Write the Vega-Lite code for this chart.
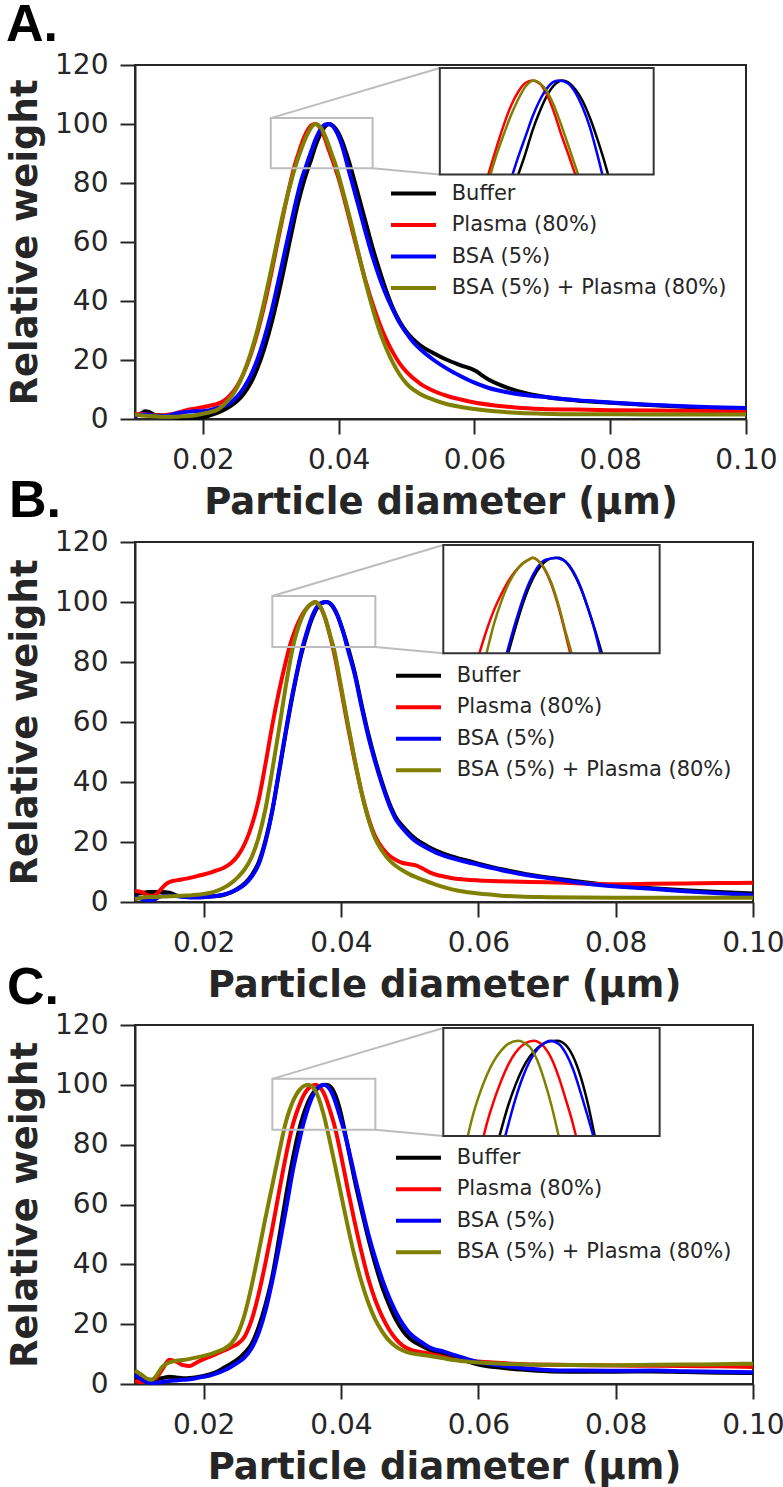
{
"$schema": "https://vega.github.io/schema/vega-lite/v6.json",
"background": "white",
"padding": {"left": 5, "top": -3, "right": 5, "bottom": 5},
"datasets": {
"A": [
{"s":"Buffer","x":0.010,"y":1.0},{"s":"Buffer","x":0.011,"y":2.0},{"s":"Buffer","x":0.0115,"y":2.6},{"s":"Buffer","x":0.012,"y":2.5},{"s":"Buffer","x":0.013,"y":1.3},{"s":"Buffer","x":0.014,"y":1.2},{"s":"Buffer","x":0.015,"y":1.0},{"s":"Buffer","x":0.016,"y":0.5},{"s":"Buffer","x":0.017,"y":0.3},{"s":"Buffer","x":0.018,"y":0.3},{"s":"Buffer","x":0.019,"y":0.4},{"s":"Buffer","x":0.020,"y":0.6},{"s":"Buffer","x":0.021,"y":1.2},{"s":"Buffer","x":0.022,"y":2.0},{"s":"Buffer","x":0.023,"y":3.0},{"s":"Buffer","x":0.024,"y":4.3},{"s":"Buffer","x":0.025,"y":6.0},{"s":"Buffer","x":0.026,"y":8.5},{"s":"Buffer","x":0.027,"y":12},{"s":"Buffer","x":0.028,"y":17},{"s":"Buffer","x":0.029,"y":23.5},{"s":"Buffer","x":0.030,"y":31.5},{"s":"Buffer","x":0.031,"y":41},{"s":"Buffer","x":0.032,"y":51.5},{"s":"Buffer","x":0.033,"y":62.5},{"s":"Buffer","x":0.034,"y":73},{"s":"Buffer","x":0.035,"y":81.5},{"s":"Buffer","x":0.0355,"y":85},{"s":"Buffer","x":0.036,"y":88.3},{"s":"Buffer","x":0.0365,"y":92},{"s":"Buffer","x":0.037,"y":95},{"s":"Buffer","x":0.0375,"y":97.5},{"s":"Buffer","x":0.038,"y":99.2},{"s":"Buffer","x":0.0386,"y":100},{"s":"Buffer","x":0.039,"y":99.7},{"s":"Buffer","x":0.0395,"y":98.6},{"s":"Buffer","x":0.040,"y":96.8},{"s":"Buffer","x":0.0405,"y":94.2},{"s":"Buffer","x":0.041,"y":91},{"s":"Buffer","x":0.0415,"y":87.4},{"s":"Buffer","x":0.0418,"y":85},{"s":"Buffer","x":0.042,"y":83.4},{"s":"Buffer","x":0.043,"y":75},{"s":"Buffer","x":0.044,"y":66.5},{"s":"Buffer","x":0.045,"y":58},{"s":"Buffer","x":0.046,"y":50.5},{"s":"Buffer","x":0.047,"y":43.5},{"s":"Buffer","x":0.048,"y":37.5},{"s":"Buffer","x":0.049,"y":33},{"s":"Buffer","x":0.050,"y":29.5},{"s":"Buffer","x":0.051,"y":27},{"s":"Buffer","x":0.052,"y":25},{"s":"Buffer","x":0.054,"y":22.3},{"s":"Buffer","x":0.056,"y":20},{"s":"Buffer","x":0.058,"y":18.2},{"s":"Buffer","x":0.060,"y":16.5},{"s":"Buffer","x":0.062,"y":13.5},{"s":"Buffer","x":0.065,"y":10.5},{"s":"Buffer","x":0.068,"y":8.5},{"s":"Buffer","x":0.071,"y":7.3},{"s":"Buffer","x":0.075,"y":6.3},{"s":"Buffer","x":0.080,"y":5.5},{"s":"Buffer","x":0.085,"y":4.8},{"s":"Buffer","x":0.090,"y":4.2},{"s":"Buffer","x":0.095,"y":3.7},{"s":"Buffer","x":0.100,"y":3.3},
{"s":"Plasma (80%)","x":0.010,"y":1.5},{"s":"Plasma (80%)","x":0.011,"y":1.8},{"s":"Plasma (80%)","x":0.012,"y":1.5},{"s":"Plasma (80%)","x":0.013,"y":1.2},{"s":"Plasma (80%)","x":0.014,"y":1.2},{"s":"Plasma (80%)","x":0.015,"y":1.5},{"s":"Plasma (80%)","x":0.016,"y":2.0},{"s":"Plasma (80%)","x":0.017,"y":2.6},{"s":"Plasma (80%)","x":0.018,"y":3.2},{"s":"Plasma (80%)","x":0.019,"y":3.6},{"s":"Plasma (80%)","x":0.020,"y":4.0},{"s":"Plasma (80%)","x":0.021,"y":4.5},{"s":"Plasma (80%)","x":0.022,"y":5.0},{"s":"Plasma (80%)","x":0.023,"y":6.0},{"s":"Plasma (80%)","x":0.024,"y":8.0},{"s":"Plasma (80%)","x":0.025,"y":11.0},{"s":"Plasma (80%)","x":0.026,"y":15.5},{"s":"Plasma (80%)","x":0.027,"y":21.5},{"s":"Plasma (80%)","x":0.028,"y":29},{"s":"Plasma (80%)","x":0.029,"y":38},{"s":"Plasma (80%)","x":0.030,"y":48.5},{"s":"Plasma (80%)","x":0.031,"y":60},{"s":"Plasma (80%)","x":0.032,"y":71},{"s":"Plasma (80%)","x":0.033,"y":81.2},{"s":"Plasma (80%)","x":0.0334,"y":85},{"s":"Plasma (80%)","x":0.034,"y":89.5},{"s":"Plasma (80%)","x":0.0345,"y":93},{"s":"Plasma (80%)","x":0.035,"y":96},{"s":"Plasma (80%)","x":0.0355,"y":98.2},{"s":"Plasma (80%)","x":0.036,"y":99.6},{"s":"Plasma (80%)","x":0.0365,"y":100},{"s":"Plasma (80%)","x":0.037,"y":99.5},{"s":"Plasma (80%)","x":0.0375,"y":97.8},{"s":"Plasma (80%)","x":0.038,"y":95},{"s":"Plasma (80%)","x":0.0385,"y":91.5},{"s":"Plasma (80%)","x":0.039,"y":88.3},{"s":"Plasma (80%)","x":0.0395,"y":85},{"s":"Plasma (80%)","x":0.040,"y":81.5},{"s":"Plasma (80%)","x":0.041,"y":73},{"s":"Plasma (80%)","x":0.042,"y":64},{"s":"Plasma (80%)","x":0.043,"y":55},{"s":"Plasma (80%)","x":0.044,"y":46.5},{"s":"Plasma (80%)","x":0.045,"y":39},{"s":"Plasma (80%)","x":0.046,"y":32.5},{"s":"Plasma (80%)","x":0.047,"y":27},{"s":"Plasma (80%)","x":0.048,"y":22.5},{"s":"Plasma (80%)","x":0.049,"y":18.8},{"s":"Plasma (80%)","x":0.050,"y":16},{"s":"Plasma (80%)","x":0.052,"y":12},{"s":"Plasma (80%)","x":0.054,"y":9.5},{"s":"Plasma (80%)","x":0.056,"y":7.8},{"s":"Plasma (80%)","x":0.058,"y":6.6},{"s":"Plasma (80%)","x":0.060,"y":5.6},{"s":"Plasma (80%)","x":0.063,"y":4.6},{"s":"Plasma (80%)","x":0.066,"y":3.9},{"s":"Plasma (80%)","x":0.070,"y":3.4},{"s":"Plasma (80%)","x":0.075,"y":3.2},{"s":"Plasma (80%)","x":0.080,"y":3.0},{"s":"Plasma (80%)","x":0.090,"y":2.8},{"s":"Plasma (80%)","x":0.100,"y":2.7},
{"s":"BSA (5%)","x":0.010,"y":1.0},{"s":"BSA (5%)","x":0.011,"y":1.5},{"s":"BSA (5%)","x":0.012,"y":1.5},{"s":"BSA (5%)","x":0.013,"y":1.0},{"s":"BSA (5%)","x":0.014,"y":1.0},{"s":"BSA (5%)","x":0.015,"y":1.2},{"s":"BSA (5%)","x":0.016,"y":1.8},{"s":"BSA (5%)","x":0.017,"y":2.2},{"s":"BSA (5%)","x":0.018,"y":2.5},{"s":"BSA (5%)","x":0.019,"y":2.6},{"s":"BSA (5%)","x":0.020,"y":2.6},{"s":"BSA (5%)","x":0.021,"y":3.0},{"s":"BSA (5%)","x":0.022,"y":3.6},{"s":"BSA (5%)","x":0.023,"y":4.3},{"s":"BSA (5%)","x":0.024,"y":5.4},{"s":"BSA (5%)","x":0.025,"y":7.5},{"s":"BSA (5%)","x":0.026,"y":10.5},{"s":"BSA (5%)","x":0.027,"y":14.5},{"s":"BSA (5%)","x":0.028,"y":20},{"s":"BSA (5%)","x":0.029,"y":27},{"s":"BSA (5%)","x":0.030,"y":35.5},{"s":"BSA (5%)","x":0.031,"y":45.5},{"s":"BSA (5%)","x":0.032,"y":56},{"s":"BSA (5%)","x":0.033,"y":66.5},{"s":"BSA (5%)","x":0.034,"y":76.5},{"s":"BSA (5%)","x":0.0345,"y":81},{"s":"BSA (5%)","x":0.0351,"y":85},{"s":"BSA (5%)","x":0.0355,"y":87.8},{"s":"BSA (5%)","x":0.036,"y":91},{"s":"BSA (5%)","x":0.0365,"y":94.2},{"s":"BSA (5%)","x":0.037,"y":96.8},{"s":"BSA (5%)","x":0.0375,"y":98.7},{"s":"BSA (5%)","x":0.038,"y":99.8},{"s":"BSA (5%)","x":0.0384,"y":100},{"s":"BSA (5%)","x":0.039,"y":99.5},{"s":"BSA (5%)","x":0.0395,"y":98.1},{"s":"BSA (5%)","x":0.040,"y":95.8},{"s":"BSA (5%)","x":0.0405,"y":92.7},{"s":"BSA (5%)","x":0.041,"y":88.6},{"s":"BSA (5%)","x":0.0414,"y":85},{"s":"BSA (5%)","x":0.042,"y":80},{"s":"BSA (5%)","x":0.043,"y":71.5},{"s":"BSA (5%)","x":0.044,"y":63},{"s":"BSA (5%)","x":0.045,"y":55},{"s":"BSA (5%)","x":0.046,"y":48},{"s":"BSA (5%)","x":0.047,"y":42},{"s":"BSA (5%)","x":0.048,"y":37},{"s":"BSA (5%)","x":0.049,"y":32.5},{"s":"BSA (5%)","x":0.050,"y":29},{"s":"BSA (5%)","x":0.051,"y":26},{"s":"BSA (5%)","x":0.052,"y":23.7},{"s":"BSA (5%)","x":0.054,"y":20},{"s":"BSA (5%)","x":0.056,"y":17},{"s":"BSA (5%)","x":0.058,"y":14.5},{"s":"BSA (5%)","x":0.060,"y":12.3},{"s":"BSA (5%)","x":0.062,"y":10.6},{"s":"BSA (5%)","x":0.065,"y":9.0},{"s":"BSA (5%)","x":0.068,"y":8.0},{"s":"BSA (5%)","x":0.071,"y":7.3},{"s":"BSA (5%)","x":0.075,"y":6.4},{"s":"BSA (5%)","x":0.080,"y":5.6},{"s":"BSA (5%)","x":0.085,"y":4.9},{"s":"BSA (5%)","x":0.090,"y":4.4},{"s":"BSA (5%)","x":0.095,"y":4.0},{"s":"BSA (5%)","x":0.100,"y":3.7},
{"s":"BSA (5%) + Plasma (80%)","x":0.010,"y":1.5},{"s":"BSA (5%) + Plasma (80%)","x":0.011,"y":1.2},{"s":"BSA (5%) + Plasma (80%)","x":0.012,"y":1.0},{"s":"BSA (5%) + Plasma (80%)","x":0.013,"y":0.9},{"s":"BSA (5%) + Plasma (80%)","x":0.014,"y":0.8},{"s":"BSA (5%) + Plasma (80%)","x":0.015,"y":0.8},{"s":"BSA (5%) + Plasma (80%)","x":0.016,"y":0.8},{"s":"BSA (5%) + Plasma (80%)","x":0.017,"y":0.9},{"s":"BSA (5%) + Plasma (80%)","x":0.018,"y":1.0},{"s":"BSA (5%) + Plasma (80%)","x":0.019,"y":1.3},{"s":"BSA (5%) + Plasma (80%)","x":0.020,"y":1.8},{"s":"BSA (5%) + Plasma (80%)","x":0.021,"y":2.3},{"s":"BSA (5%) + Plasma (80%)","x":0.022,"y":3.0},{"s":"BSA (5%) + Plasma (80%)","x":0.023,"y":4.6},{"s":"BSA (5%) + Plasma (80%)","x":0.024,"y":7.0},{"s":"BSA (5%) + Plasma (80%)","x":0.025,"y":10.5},{"s":"BSA (5%) + Plasma (80%)","x":0.026,"y":15.5},{"s":"BSA (5%) + Plasma (80%)","x":0.027,"y":22},{"s":"BSA (5%) + Plasma (80%)","x":0.028,"y":30},{"s":"BSA (5%) + Plasma (80%)","x":0.029,"y":39.5},{"s":"BSA (5%) + Plasma (80%)","x":0.030,"y":50},{"s":"BSA (5%) + Plasma (80%)","x":0.031,"y":61},{"s":"BSA (5%) + Plasma (80%)","x":0.032,"y":71.5},{"s":"BSA (5%) + Plasma (80%)","x":0.033,"y":80.5},{"s":"BSA (5%) + Plasma (80%)","x":0.03355,"y":85},{"s":"BSA (5%) + Plasma (80%)","x":0.034,"y":88.3},{"s":"BSA (5%) + Plasma (80%)","x":0.0345,"y":91.5},{"s":"BSA (5%) + Plasma (80%)","x":0.035,"y":94.5},{"s":"BSA (5%) + Plasma (80%)","x":0.0355,"y":97},{"s":"BSA (5%) + Plasma (80%)","x":0.036,"y":99},{"s":"BSA (5%) + Plasma (80%)","x":0.0366,"y":100},{"s":"BSA (5%) + Plasma (80%)","x":0.037,"y":99.6},{"s":"BSA (5%) + Plasma (80%)","x":0.0375,"y":98.3},{"s":"BSA (5%) + Plasma (80%)","x":0.038,"y":96},{"s":"BSA (5%) + Plasma (80%)","x":0.0385,"y":93},{"s":"BSA (5%) + Plasma (80%)","x":0.039,"y":89.7},{"s":"BSA (5%) + Plasma (80%)","x":0.0397,"y":85},{"s":"BSA (5%) + Plasma (80%)","x":0.040,"y":82.5},{"s":"BSA (5%) + Plasma (80%)","x":0.041,"y":74},{"s":"BSA (5%) + Plasma (80%)","x":0.042,"y":65},{"s":"BSA (5%) + Plasma (80%)","x":0.043,"y":55.5},{"s":"BSA (5%) + Plasma (80%)","x":0.044,"y":46},{"s":"BSA (5%) + Plasma (80%)","x":0.045,"y":37.5},{"s":"BSA (5%) + Plasma (80%)","x":0.046,"y":30},{"s":"BSA (5%) + Plasma (80%)","x":0.047,"y":24},{"s":"BSA (5%) + Plasma (80%)","x":0.048,"y":19},{"s":"BSA (5%) + Plasma (80%)","x":0.049,"y":15},{"s":"BSA (5%) + Plasma (80%)","x":0.050,"y":12},{"s":"BSA (5%) + Plasma (80%)","x":0.052,"y":8.5},{"s":"BSA (5%) + Plasma (80%)","x":0.054,"y":6.5},{"s":"BSA (5%) + Plasma (80%)","x":0.056,"y":5.0},{"s":"BSA (5%) + Plasma (80%)","x":0.058,"y":4.1},{"s":"BSA (5%) + Plasma (80%)","x":0.060,"y":3.4},{"s":"BSA (5%) + Plasma (80%)","x":0.063,"y":2.6},{"s":"BSA (5%) + Plasma (80%)","x":0.066,"y":2.1},{"s":"BSA (5%) + Plasma (80%)","x":0.070,"y":1.8},{"s":"BSA (5%) + Plasma (80%)","x":0.075,"y":1.6},{"s":"BSA (5%) + Plasma (80%)","x":0.080,"y":1.6},{"s":"BSA (5%) + Plasma (80%)","x":0.090,"y":1.5},{"s":"BSA (5%) + Plasma (80%)","x":0.100,"y":1.5}
],
"B": [
{"s":"Buffer","x":0.010,"y":2.6},{"s":"Buffer","x":0.011,"y":3.0},{"s":"Buffer","x":0.012,"y":3.3},{"s":"Buffer","x":0.013,"y":3.3},{"s":"Buffer","x":0.014,"y":3.3},{"s":"Buffer","x":0.015,"y":3.1},{"s":"Buffer","x":0.016,"y":2.2},{"s":"Buffer","x":0.017,"y":1.8},{"s":"Buffer","x":0.018,"y":1.7},{"s":"Buffer","x":0.019,"y":1.7},{"s":"Buffer","x":0.020,"y":1.7},{"s":"Buffer","x":0.021,"y":1.8},{"s":"Buffer","x":0.022,"y":2.0},{"s":"Buffer","x":0.023,"y":2.4},{"s":"Buffer","x":0.024,"y":3.2},{"s":"Buffer","x":0.025,"y":4.5},{"s":"Buffer","x":0.026,"y":6.3},{"s":"Buffer","x":0.027,"y":9.0},{"s":"Buffer","x":0.028,"y":13.2},{"s":"Buffer","x":0.029,"y":20.5},{"s":"Buffer","x":0.030,"y":30.5},{"s":"Buffer","x":0.031,"y":43.5},{"s":"Buffer","x":0.032,"y":57},{"s":"Buffer","x":0.033,"y":69.5},{"s":"Buffer","x":0.034,"y":80.5},{"s":"Buffer","x":0.0345,"y":85},{"s":"Buffer","x":0.035,"y":89},{"s":"Buffer","x":0.0355,"y":92.7},{"s":"Buffer","x":0.036,"y":95.7},{"s":"Buffer","x":0.0365,"y":97.9},{"s":"Buffer","x":0.037,"y":99.3},{"s":"Buffer","x":0.0375,"y":99.9},{"s":"Buffer","x":0.038,"y":100},{"s":"Buffer","x":0.0385,"y":99.3},{"s":"Buffer","x":0.039,"y":97.7},{"s":"Buffer","x":0.0395,"y":95.4},{"s":"Buffer","x":0.040,"y":92.3},{"s":"Buffer","x":0.0405,"y":88.8},{"s":"Buffer","x":0.041,"y":85},{"s":"Buffer","x":0.042,"y":76.5},{"s":"Buffer","x":0.043,"y":65.8},{"s":"Buffer","x":0.044,"y":55.8},{"s":"Buffer","x":0.045,"y":47.2},{"s":"Buffer","x":0.046,"y":39.7},{"s":"Buffer","x":0.047,"y":33.2},{"s":"Buffer","x":0.048,"y":28.2},{"s":"Buffer","x":0.049,"y":25.2},{"s":"Buffer","x":0.050,"y":22.8},{"s":"Buffer","x":0.051,"y":20.8},{"s":"Buffer","x":0.0525,"y":18.7},{"s":"Buffer","x":0.054,"y":17},{"s":"Buffer","x":0.056,"y":15.3},{"s":"Buffer","x":0.058,"y":14},{"s":"Buffer","x":0.060,"y":12.8},{"s":"Buffer","x":0.0634,"y":10.9},{"s":"Buffer","x":0.067,"y":9.3},{"s":"Buffer","x":0.0707,"y":8.0},{"s":"Buffer","x":0.074,"y":7.0},{"s":"Buffer","x":0.078,"y":5.9},{"s":"Buffer","x":0.0825,"y":5.0},{"s":"Buffer","x":0.0852,"y":4.6},{"s":"Buffer","x":0.090,"y":3.9},{"s":"Buffer","x":0.095,"y":3.3},{"s":"Buffer","x":0.100,"y":2.8},
{"s":"Plasma (80%)","x":0.010,"y":3.7},{"s":"Plasma (80%)","x":0.011,"y":3.3},{"s":"Plasma (80%)","x":0.0117,"y":2.4},{"s":"Plasma (80%)","x":0.0125,"y":2.0},{"s":"Plasma (80%)","x":0.0132,"y":2.8},{"s":"Plasma (80%)","x":0.014,"y":4.8},{"s":"Plasma (80%)","x":0.0146,"y":6.1},{"s":"Plasma (80%)","x":0.0155,"y":7.0},{"s":"Plasma (80%)","x":0.0165,"y":7.4},{"s":"Plasma (80%)","x":0.0175,"y":7.8},{"s":"Plasma (80%)","x":0.0185,"y":8.3},{"s":"Plasma (80%)","x":0.0195,"y":8.9},{"s":"Plasma (80%)","x":0.021,"y":9.8},{"s":"Plasma (80%)","x":0.022,"y":10.6},{"s":"Plasma (80%)","x":0.023,"y":11.5},{"s":"Plasma (80%)","x":0.024,"y":13},{"s":"Plasma (80%)","x":0.025,"y":15.5},{"s":"Plasma (80%)","x":0.026,"y":19.5},{"s":"Plasma (80%)","x":0.027,"y":25.5},{"s":"Plasma (80%)","x":0.028,"y":34},{"s":"Plasma (80%)","x":0.029,"y":46},{"s":"Plasma (80%)","x":0.030,"y":59},{"s":"Plasma (80%)","x":0.031,"y":70.5},{"s":"Plasma (80%)","x":0.032,"y":80.5},{"s":"Plasma (80%)","x":0.0325,"y":85},{"s":"Plasma (80%)","x":0.033,"y":88.6},{"s":"Plasma (80%)","x":0.0335,"y":91.7},{"s":"Plasma (80%)","x":0.034,"y":94.2},{"s":"Plasma (80%)","x":0.0345,"y":96.3},{"s":"Plasma (80%)","x":0.035,"y":97.9},{"s":"Plasma (80%)","x":0.0355,"y":99.1},{"s":"Plasma (80%)","x":0.036,"y":99.8},{"s":"Plasma (80%)","x":0.0362,"y":100},{"s":"Plasma (80%)","x":0.0365,"y":99.7},{"s":"Plasma (80%)","x":0.037,"y":98.3},{"s":"Plasma (80%)","x":0.0375,"y":95.8},{"s":"Plasma (80%)","x":0.038,"y":92.2},{"s":"Plasma (80%)","x":0.0385,"y":87.8},{"s":"Plasma (80%)","x":0.0388,"y":85},{"s":"Plasma (80%)","x":0.039,"y":83},{"s":"Plasma (80%)","x":0.040,"y":71},{"s":"Plasma (80%)","x":0.041,"y":58.5},{"s":"Plasma (80%)","x":0.042,"y":47},{"s":"Plasma (80%)","x":0.043,"y":36.5},{"s":"Plasma (80%)","x":0.044,"y":28},{"s":"Plasma (80%)","x":0.045,"y":21.8},{"s":"Plasma (80%)","x":0.046,"y":18},{"s":"Plasma (80%)","x":0.047,"y":15.5},{"s":"Plasma (80%)","x":0.048,"y":14},{"s":"Plasma (80%)","x":0.049,"y":13},{"s":"Plasma (80%)","x":0.050,"y":12.6},{"s":"Plasma (80%)","x":0.051,"y":12.1},{"s":"Plasma (80%)","x":0.052,"y":11},{"s":"Plasma (80%)","x":0.053,"y":9.8},{"s":"Plasma (80%)","x":0.054,"y":9.0},{"s":"Plasma (80%)","x":0.055,"y":8.5},{"s":"Plasma (80%)","x":0.056,"y":8.0},{"s":"Plasma (80%)","x":0.058,"y":7.5},{"s":"Plasma (80%)","x":0.060,"y":7.2},{"s":"Plasma (80%)","x":0.065,"y":6.8},{"s":"Plasma (80%)","x":0.070,"y":6.6},{"s":"Plasma (80%)","x":0.075,"y":6.2},{"s":"Plasma (80%)","x":0.080,"y":5.9},{"s":"Plasma (80%)","x":0.085,"y":6.1},{"s":"Plasma (80%)","x":0.090,"y":6.2},{"s":"Plasma (80%)","x":0.095,"y":6.3},{"s":"Plasma (80%)","x":0.100,"y":6.4},
{"s":"BSA (5%)","x":0.010,"y":1.7},{"s":"BSA (5%)","x":0.011,"y":1.0},{"s":"BSA (5%)","x":0.012,"y":0.6},{"s":"BSA (5%)","x":0.0128,"y":0.8},{"s":"BSA (5%)","x":0.0136,"y":1.8},{"s":"BSA (5%)","x":0.015,"y":2.2},{"s":"BSA (5%)","x":0.016,"y":2.0},{"s":"BSA (5%)","x":0.017,"y":1.7},{"s":"BSA (5%)","x":0.018,"y":1.5},{"s":"BSA (5%)","x":0.019,"y":1.5},{"s":"BSA (5%)","x":0.020,"y":1.6},{"s":"BSA (5%)","x":0.021,"y":1.8},{"s":"BSA (5%)","x":0.022,"y":2.1},{"s":"BSA (5%)","x":0.023,"y":2.5},{"s":"BSA (5%)","x":0.024,"y":3.3},{"s":"BSA (5%)","x":0.025,"y":4.3},{"s":"BSA (5%)","x":0.026,"y":5.9},{"s":"BSA (5%)","x":0.027,"y":8.5},{"s":"BSA (5%)","x":0.028,"y":12.5},{"s":"BSA (5%)","x":0.029,"y":20},{"s":"BSA (5%)","x":0.030,"y":30.5},{"s":"BSA (5%)","x":0.031,"y":44},{"s":"BSA (5%)","x":0.032,"y":57.5},{"s":"BSA (5%)","x":0.033,"y":70},{"s":"BSA (5%)","x":0.034,"y":81},{"s":"BSA (5%)","x":0.0344,"y":85},{"s":"BSA (5%)","x":0.035,"y":89.8},{"s":"BSA (5%)","x":0.0355,"y":93.4},{"s":"BSA (5%)","x":0.036,"y":96.3},{"s":"BSA (5%)","x":0.0365,"y":98.4},{"s":"BSA (5%)","x":0.037,"y":99.6},{"s":"BSA (5%)","x":0.0375,"y":99.9},{"s":"BSA (5%)","x":0.0378,"y":100},{"s":"BSA (5%)","x":0.038,"y":99.9},{"s":"BSA (5%)","x":0.0385,"y":99.4},{"s":"BSA (5%)","x":0.039,"y":97.9},{"s":"BSA (5%)","x":0.0395,"y":95.5},{"s":"BSA (5%)","x":0.040,"y":92.3},{"s":"BSA (5%)","x":0.0405,"y":88.6},{"s":"BSA (5%)","x":0.0409,"y":85},{"s":"BSA (5%)","x":0.042,"y":75.8},{"s":"BSA (5%)","x":0.043,"y":65},{"s":"BSA (5%)","x":0.044,"y":55},{"s":"BSA (5%)","x":0.045,"y":46.5},{"s":"BSA (5%)","x":0.046,"y":39},{"s":"BSA (5%)","x":0.047,"y":32.5},{"s":"BSA (5%)","x":0.048,"y":27.5},{"s":"BSA (5%)","x":0.049,"y":24.5},{"s":"BSA (5%)","x":0.050,"y":22},{"s":"BSA (5%)","x":0.051,"y":20},{"s":"BSA (5%)","x":0.0525,"y":18},{"s":"BSA (5%)","x":0.054,"y":16.3},{"s":"BSA (5%)","x":0.056,"y":14.7},{"s":"BSA (5%)","x":0.058,"y":13.5},{"s":"BSA (5%)","x":0.060,"y":12.4},{"s":"BSA (5%)","x":0.0634,"y":10.6},{"s":"BSA (5%)","x":0.067,"y":9.0},{"s":"BSA (5%)","x":0.0707,"y":7.8},{"s":"BSA (5%)","x":0.074,"y":6.7},{"s":"BSA (5%)","x":0.078,"y":5.6},{"s":"BSA (5%)","x":0.0825,"y":4.8},{"s":"BSA (5%)","x":0.0852,"y":4.4},{"s":"BSA (5%)","x":0.090,"y":3.6},{"s":"BSA (5%)","x":0.095,"y":2.9},{"s":"BSA (5%)","x":0.100,"y":2.3},
{"s":"BSA (5%) + Plasma (80%)","x":0.010,"y":0.9},{"s":"BSA (5%) + Plasma (80%)","x":0.011,"y":1.5},{"s":"BSA (5%) + Plasma (80%)","x":0.012,"y":1.7},{"s":"BSA (5%) + Plasma (80%)","x":0.013,"y":1.7},{"s":"BSA (5%) + Plasma (80%)","x":0.014,"y":1.8},{"s":"BSA (5%) + Plasma (80%)","x":0.015,"y":1.9},{"s":"BSA (5%) + Plasma (80%)","x":0.016,"y":2.0},{"s":"BSA (5%) + Plasma (80%)","x":0.017,"y":2.1},{"s":"BSA (5%) + Plasma (80%)","x":0.018,"y":2.2},{"s":"BSA (5%) + Plasma (80%)","x":0.019,"y":2.4},{"s":"BSA (5%) + Plasma (80%)","x":0.020,"y":2.7},{"s":"BSA (5%) + Plasma (80%)","x":0.021,"y":3.1},{"s":"BSA (5%) + Plasma (80%)","x":0.022,"y":3.8},{"s":"BSA (5%) + Plasma (80%)","x":0.023,"y":4.8},{"s":"BSA (5%) + Plasma (80%)","x":0.024,"y":6.3},{"s":"BSA (5%) + Plasma (80%)","x":0.025,"y":8.3},{"s":"BSA (5%) + Plasma (80%)","x":0.026,"y":11},{"s":"BSA (5%) + Plasma (80%)","x":0.027,"y":15},{"s":"BSA (5%) + Plasma (80%)","x":0.028,"y":21.5},{"s":"BSA (5%) + Plasma (80%)","x":0.029,"y":31},{"s":"BSA (5%) + Plasma (80%)","x":0.030,"y":44},{"s":"BSA (5%) + Plasma (80%)","x":0.031,"y":58},{"s":"BSA (5%) + Plasma (80%)","x":0.032,"y":72.5},{"s":"BSA (5%) + Plasma (80%)","x":0.033,"y":85},{"s":"BSA (5%) + Plasma (80%)","x":0.0335,"y":89.5},{"s":"BSA (5%) + Plasma (80%)","x":0.034,"y":93},{"s":"BSA (5%) + Plasma (80%)","x":0.0345,"y":95.8},{"s":"BSA (5%) + Plasma (80%)","x":0.035,"y":97.8},{"s":"BSA (5%) + Plasma (80%)","x":0.0355,"y":99.1},{"s":"BSA (5%) + Plasma (80%)","x":0.036,"y":99.8},{"s":"BSA (5%) + Plasma (80%)","x":0.0362,"y":100},{"s":"BSA (5%) + Plasma (80%)","x":0.0365,"y":99.7},{"s":"BSA (5%) + Plasma (80%)","x":0.037,"y":98.4},{"s":"BSA (5%) + Plasma (80%)","x":0.0375,"y":96},{"s":"BSA (5%) + Plasma (80%)","x":0.038,"y":92.5},{"s":"BSA (5%) + Plasma (80%)","x":0.0385,"y":88.2},{"s":"BSA (5%) + Plasma (80%)","x":0.0389,"y":85},{"s":"BSA (5%) + Plasma (80%)","x":0.039,"y":84},{"s":"BSA (5%) + Plasma (80%)","x":0.040,"y":72},{"s":"BSA (5%) + Plasma (80%)","x":0.041,"y":59.5},{"s":"BSA (5%) + Plasma (80%)","x":0.042,"y":47.5},{"s":"BSA (5%) + Plasma (80%)","x":0.043,"y":36.5},{"s":"BSA (5%) + Plasma (80%)","x":0.044,"y":27.5},{"s":"BSA (5%) + Plasma (80%)","x":0.045,"y":21},{"s":"BSA (5%) + Plasma (80%)","x":0.046,"y":17},{"s":"BSA (5%) + Plasma (80%)","x":0.047,"y":14},{"s":"BSA (5%) + Plasma (80%)","x":0.048,"y":12},{"s":"BSA (5%) + Plasma (80%)","x":0.049,"y":10.5},{"s":"BSA (5%) + Plasma (80%)","x":0.050,"y":9.2},{"s":"BSA (5%) + Plasma (80%)","x":0.051,"y":8.2},{"s":"BSA (5%) + Plasma (80%)","x":0.052,"y":7.3},{"s":"BSA (5%) + Plasma (80%)","x":0.054,"y":5.6},{"s":"BSA (5%) + Plasma (80%)","x":0.056,"y":4.3},{"s":"BSA (5%) + Plasma (80%)","x":0.058,"y":3.4},{"s":"BSA (5%) + Plasma (80%)","x":0.060,"y":2.8},{"s":"BSA (5%) + Plasma (80%)","x":0.063,"y":2.2},{"s":"BSA (5%) + Plasma (80%)","x":0.066,"y":1.8},{"s":"BSA (5%) + Plasma (80%)","x":0.070,"y":1.6},{"s":"BSA (5%) + Plasma (80%)","x":0.080,"y":1.4},{"s":"BSA (5%) + Plasma (80%)","x":0.090,"y":1.4},{"s":"BSA (5%) + Plasma (80%)","x":0.100,"y":1.4}
],
"C": [
{"s":"Buffer","x":0.010,"y":1.4},{"s":"Buffer","x":0.011,"y":1.4},{"s":"Buffer","x":0.012,"y":1.4},{"s":"Buffer","x":0.013,"y":1.5},{"s":"Buffer","x":0.014,"y":2.0},{"s":"Buffer","x":0.015,"y":2.4},{"s":"Buffer","x":0.016,"y":2.2},{"s":"Buffer","x":0.017,"y":1.9},{"s":"Buffer","x":0.018,"y":2.0},{"s":"Buffer","x":0.019,"y":2.3},{"s":"Buffer","x":0.020,"y":2.7},{"s":"Buffer","x":0.021,"y":3.3},{"s":"Buffer","x":0.022,"y":4.2},{"s":"Buffer","x":0.023,"y":5.5},{"s":"Buffer","x":0.024,"y":6.8},{"s":"Buffer","x":0.025,"y":8.3},{"s":"Buffer","x":0.026,"y":10.5},{"s":"Buffer","x":0.027,"y":13.5},{"s":"Buffer","x":0.028,"y":19},{"s":"Buffer","x":0.029,"y":26.5},{"s":"Buffer","x":0.030,"y":36},{"s":"Buffer","x":0.031,"y":49},{"s":"Buffer","x":0.032,"y":63},{"s":"Buffer","x":0.033,"y":75.5},{"s":"Buffer","x":0.0339,"y":85},{"s":"Buffer","x":0.0345,"y":89.8},{"s":"Buffer","x":0.035,"y":93},{"s":"Buffer","x":0.0355,"y":95.6},{"s":"Buffer","x":0.036,"y":97.5},{"s":"Buffer","x":0.0365,"y":98.8},{"s":"Buffer","x":0.037,"y":99.6},{"s":"Buffer","x":0.0375,"y":99.95},{"s":"Buffer","x":0.0379,"y":100},{"s":"Buffer","x":0.0385,"y":99.3},{"s":"Buffer","x":0.039,"y":97.5},{"s":"Buffer","x":0.0395,"y":94.5},{"s":"Buffer","x":0.040,"y":90.3},{"s":"Buffer","x":0.0405,"y":85},{"s":"Buffer","x":0.041,"y":79.3},{"s":"Buffer","x":0.042,"y":68},{"s":"Buffer","x":0.043,"y":58},{"s":"Buffer","x":0.044,"y":48.5},{"s":"Buffer","x":0.045,"y":40},{"s":"Buffer","x":0.046,"y":32.5},{"s":"Buffer","x":0.047,"y":26.5},{"s":"Buffer","x":0.048,"y":21.5},{"s":"Buffer","x":0.049,"y":17.8},{"s":"Buffer","x":0.050,"y":15.2},{"s":"Buffer","x":0.0515,"y":13},{"s":"Buffer","x":0.0532,"y":11.1},{"s":"Buffer","x":0.055,"y":9.6},{"s":"Buffer","x":0.0561,"y":9.0},{"s":"Buffer","x":0.058,"y":7.8},{"s":"Buffer","x":0.060,"y":6.5},{"s":"Buffer","x":0.0634,"y":5.4},{"s":"Buffer","x":0.067,"y":4.7},{"s":"Buffer","x":0.0707,"y":4.2},{"s":"Buffer","x":0.075,"y":4.1},{"s":"Buffer","x":0.080,"y":4.1},{"s":"Buffer","x":0.0852,"y":4.2},{"s":"Buffer","x":0.090,"y":4.0},{"s":"Buffer","x":0.095,"y":3.8},{"s":"Buffer","x":0.100,"y":3.7},
{"s":"Plasma (80%)","x":0.010,"y":1.0},{"s":"Plasma (80%)","x":0.011,"y":0.7},{"s":"Plasma (80%)","x":0.012,"y":0.8},{"s":"Plasma (80%)","x":0.013,"y":1.8},{"s":"Plasma (80%)","x":0.014,"y":5.0},{"s":"Plasma (80%)","x":0.015,"y":8.1},{"s":"Plasma (80%)","x":0.016,"y":7.5},{"s":"Plasma (80%)","x":0.017,"y":6.3},{"s":"Plasma (80%)","x":0.018,"y":6.0},{"s":"Plasma (80%)","x":0.019,"y":7.2},{"s":"Plasma (80%)","x":0.020,"y":8.3},{"s":"Plasma (80%)","x":0.021,"y":9.2},{"s":"Plasma (80%)","x":0.022,"y":10.2},{"s":"Plasma (80%)","x":0.023,"y":11.2},{"s":"Plasma (80%)","x":0.024,"y":12.3},{"s":"Plasma (80%)","x":0.025,"y":13.5},{"s":"Plasma (80%)","x":0.026,"y":16},{"s":"Plasma (80%)","x":0.027,"y":21.5},{"s":"Plasma (80%)","x":0.028,"y":30},{"s":"Plasma (80%)","x":0.029,"y":40.5},{"s":"Plasma (80%)","x":0.030,"y":52},{"s":"Plasma (80%)","x":0.031,"y":64.5},{"s":"Plasma (80%)","x":0.032,"y":76.5},{"s":"Plasma (80%)","x":0.0328,"y":85},{"s":"Plasma (80%)","x":0.033,"y":86.8},{"s":"Plasma (80%)","x":0.0335,"y":90.5},{"s":"Plasma (80%)","x":0.034,"y":93.6},{"s":"Plasma (80%)","x":0.0345,"y":96.2},{"s":"Plasma (80%)","x":0.035,"y":98.1},{"s":"Plasma (80%)","x":0.0355,"y":99.3},{"s":"Plasma (80%)","x":0.036,"y":99.9},{"s":"Plasma (80%)","x":0.0363,"y":100},{"s":"Plasma (80%)","x":0.0365,"y":99.9},{"s":"Plasma (80%)","x":0.037,"y":99},{"s":"Plasma (80%)","x":0.0375,"y":97.2},{"s":"Plasma (80%)","x":0.038,"y":94.3},{"s":"Plasma (80%)","x":0.0385,"y":90.7},{"s":"Plasma (80%)","x":0.039,"y":86.8},{"s":"Plasma (80%)","x":0.0392,"y":85},{"s":"Plasma (80%)","x":0.040,"y":76.5},{"s":"Plasma (80%)","x":0.041,"y":65},{"s":"Plasma (80%)","x":0.042,"y":54},{"s":"Plasma (80%)","x":0.043,"y":44},{"s":"Plasma (80%)","x":0.044,"y":35},{"s":"Plasma (80%)","x":0.045,"y":28},{"s":"Plasma (80%)","x":0.046,"y":22.5},{"s":"Plasma (80%)","x":0.047,"y":18.2},{"s":"Plasma (80%)","x":0.048,"y":15},{"s":"Plasma (80%)","x":0.049,"y":12.8},{"s":"Plasma (80%)","x":0.050,"y":11.6},{"s":"Plasma (80%)","x":0.0525,"y":10.3},{"s":"Plasma (80%)","x":0.055,"y":9.0},{"s":"Plasma (80%)","x":0.0561,"y":8.3},{"s":"Plasma (80%)","x":0.058,"y":7.8},{"s":"Plasma (80%)","x":0.060,"y":7.5},{"s":"Plasma (80%)","x":0.0634,"y":7.0},{"s":"Plasma (80%)","x":0.0707,"y":6.4},{"s":"Plasma (80%)","x":0.080,"y":6.2},{"s":"Plasma (80%)","x":0.0852,"y":6.1},{"s":"Plasma (80%)","x":0.090,"y":6.0},{"s":"Plasma (80%)","x":0.095,"y":5.9},{"s":"Plasma (80%)","x":0.100,"y":5.7},
{"s":"BSA (5%)","x":0.010,"y":3.1},{"s":"BSA (5%)","x":0.011,"y":1.5},{"s":"BSA (5%)","x":0.012,"y":0.4},{"s":"BSA (5%)","x":0.013,"y":0.4},{"s":"BSA (5%)","x":0.014,"y":0.7},{"s":"BSA (5%)","x":0.015,"y":1.0},{"s":"BSA (5%)","x":0.016,"y":1.2},{"s":"BSA (5%)","x":0.017,"y":1.4},{"s":"BSA (5%)","x":0.018,"y":1.6},{"s":"BSA (5%)","x":0.019,"y":2.0},{"s":"BSA (5%)","x":0.020,"y":2.4},{"s":"BSA (5%)","x":0.021,"y":2.9},{"s":"BSA (5%)","x":0.022,"y":3.6},{"s":"BSA (5%)","x":0.023,"y":4.6},{"s":"BSA (5%)","x":0.024,"y":5.8},{"s":"BSA (5%)","x":0.025,"y":7.2},{"s":"BSA (5%)","x":0.026,"y":9.0},{"s":"BSA (5%)","x":0.027,"y":12},{"s":"BSA (5%)","x":0.028,"y":17},{"s":"BSA (5%)","x":0.029,"y":24.5},{"s":"BSA (5%)","x":0.030,"y":34.5},{"s":"BSA (5%)","x":0.031,"y":46},{"s":"BSA (5%)","x":0.032,"y":58.5},{"s":"BSA (5%)","x":0.033,"y":71.5},{"s":"BSA (5%)","x":0.034,"y":82},{"s":"BSA (5%)","x":0.0343,"y":85},{"s":"BSA (5%)","x":0.035,"y":90.8},{"s":"BSA (5%)","x":0.0355,"y":94.2},{"s":"BSA (5%)","x":0.036,"y":96.8},{"s":"BSA (5%)","x":0.0365,"y":98.6},{"s":"BSA (5%)","x":0.037,"y":99.6},{"s":"BSA (5%)","x":0.0374,"y":100},{"s":"BSA (5%)","x":0.038,"y":99.5},{"s":"BSA (5%)","x":0.0385,"y":98},{"s":"BSA (5%)","x":0.039,"y":95.5},{"s":"BSA (5%)","x":0.0395,"y":92},{"s":"BSA (5%)","x":0.040,"y":88.2},{"s":"BSA (5%)","x":0.0404,"y":85},{"s":"BSA (5%)","x":0.041,"y":79.5},{"s":"BSA (5%)","x":0.042,"y":69.5},{"s":"BSA (5%)","x":0.043,"y":59.5},{"s":"BSA (5%)","x":0.044,"y":50},{"s":"BSA (5%)","x":0.045,"y":42},{"s":"BSA (5%)","x":0.046,"y":35},{"s":"BSA (5%)","x":0.047,"y":29},{"s":"BSA (5%)","x":0.048,"y":24},{"s":"BSA (5%)","x":0.049,"y":20},{"s":"BSA (5%)","x":0.050,"y":17},{"s":"BSA (5%)","x":0.0515,"y":14.3},{"s":"BSA (5%)","x":0.0532,"y":11.9},{"s":"BSA (5%)","x":0.055,"y":10.8},{"s":"BSA (5%)","x":0.0561,"y":10},{"s":"BSA (5%)","x":0.058,"y":8.6},{"s":"BSA (5%)","x":0.060,"y":7.3},{"s":"BSA (5%)","x":0.0634,"y":6.1},{"s":"BSA (5%)","x":0.067,"y":5.2},{"s":"BSA (5%)","x":0.0707,"y":4.6},{"s":"BSA (5%)","x":0.075,"y":4.5},{"s":"BSA (5%)","x":0.080,"y":4.4},{"s":"BSA (5%)","x":0.0852,"y":4.5},{"s":"BSA (5%)","x":0.090,"y":4.3},{"s":"BSA (5%)","x":0.095,"y":4.1},{"s":"BSA (5%)","x":0.100,"y":3.9},
{"s":"BSA (5%) + Plasma (80%)","x":0.010,"y":4.5},{"s":"BSA (5%) + Plasma (80%)","x":0.011,"y":3.0},{"s":"BSA (5%) + Plasma (80%)","x":0.012,"y":1.5},{"s":"BSA (5%) + Plasma (80%)","x":0.0125,"y":1.4},{"s":"BSA (5%) + Plasma (80%)","x":0.013,"y":2.5},{"s":"BSA (5%) + Plasma (80%)","x":0.014,"y":5.8},{"s":"BSA (5%) + Plasma (80%)","x":0.015,"y":7.2},{"s":"BSA (5%) + Plasma (80%)","x":0.016,"y":7.8},{"s":"BSA (5%) + Plasma (80%)","x":0.017,"y":8.0},{"s":"BSA (5%) + Plasma (80%)","x":0.018,"y":8.4},{"s":"BSA (5%) + Plasma (80%)","x":0.019,"y":8.9},{"s":"BSA (5%) + Plasma (80%)","x":0.020,"y":9.4},{"s":"BSA (5%) + Plasma (80%)","x":0.021,"y":10.0},{"s":"BSA (5%) + Plasma (80%)","x":0.022,"y":10.8},{"s":"BSA (5%) + Plasma (80%)","x":0.023,"y":11.8},{"s":"BSA (5%) + Plasma (80%)","x":0.024,"y":13.5},{"s":"BSA (5%) + Plasma (80%)","x":0.025,"y":17},{"s":"BSA (5%) + Plasma (80%)","x":0.026,"y":23.5},{"s":"BSA (5%) + Plasma (80%)","x":0.027,"y":33},{"s":"BSA (5%) + Plasma (80%)","x":0.028,"y":44},{"s":"BSA (5%) + Plasma (80%)","x":0.029,"y":55.5},{"s":"BSA (5%) + Plasma (80%)","x":0.030,"y":66.5},{"s":"BSA (5%) + Plasma (80%)","x":0.031,"y":77.5},{"s":"BSA (5%) + Plasma (80%)","x":0.0317,"y":85},{"s":"BSA (5%) + Plasma (80%)","x":0.032,"y":87.8},{"s":"BSA (5%) + Plasma (80%)","x":0.0325,"y":91.5},{"s":"BSA (5%) + Plasma (80%)","x":0.033,"y":94.5},{"s":"BSA (5%) + Plasma (80%)","x":0.0335,"y":96.8},{"s":"BSA (5%) + Plasma (80%)","x":0.034,"y":98.4},{"s":"BSA (5%) + Plasma (80%)","x":0.0345,"y":99.5},{"s":"BSA (5%) + Plasma (80%)","x":0.0352,"y":100},{"s":"BSA (5%) + Plasma (80%)","x":0.0355,"y":99.8},{"s":"BSA (5%) + Plasma (80%)","x":0.036,"y":99},{"s":"BSA (5%) + Plasma (80%)","x":0.0365,"y":97},{"s":"BSA (5%) + Plasma (80%)","x":0.037,"y":93.8},{"s":"BSA (5%) + Plasma (80%)","x":0.0375,"y":89.8},{"s":"BSA (5%) + Plasma (80%)","x":0.038,"y":85},{"s":"BSA (5%) + Plasma (80%)","x":0.039,"y":74.5},{"s":"BSA (5%) + Plasma (80%)","x":0.040,"y":63.5},{"s":"BSA (5%) + Plasma (80%)","x":0.041,"y":52.5},{"s":"BSA (5%) + Plasma (80%)","x":0.042,"y":42.5},{"s":"BSA (5%) + Plasma (80%)","x":0.043,"y":34},{"s":"BSA (5%) + Plasma (80%)","x":0.044,"y":27},{"s":"BSA (5%) + Plasma (80%)","x":0.045,"y":21.5},{"s":"BSA (5%) + Plasma (80%)","x":0.046,"y":17.5},{"s":"BSA (5%) + Plasma (80%)","x":0.047,"y":14.5},{"s":"BSA (5%) + Plasma (80%)","x":0.048,"y":12.5},{"s":"BSA (5%) + Plasma (80%)","x":0.049,"y":11.2},{"s":"BSA (5%) + Plasma (80%)","x":0.050,"y":10.4},{"s":"BSA (5%) + Plasma (80%)","x":0.0525,"y":9.5},{"s":"BSA (5%) + Plasma (80%)","x":0.055,"y":8.6},{"s":"BSA (5%) + Plasma (80%)","x":0.0561,"y":8.1},{"s":"BSA (5%) + Plasma (80%)","x":0.058,"y":7.6},{"s":"BSA (5%) + Plasma (80%)","x":0.060,"y":7.2},{"s":"BSA (5%) + Plasma (80%)","x":0.0634,"y":6.8},{"s":"BSA (5%) + Plasma (80%)","x":0.0707,"y":6.4},{"s":"BSA (5%) + Plasma (80%)","x":0.080,"y":6.3},{"s":"BSA (5%) + Plasma (80%)","x":0.0852,"y":6.4},{"s":"BSA (5%) + Plasma (80%)","x":0.090,"y":6.5},{"s":"BSA (5%) + Plasma (80%)","x":0.095,"y":6.6},{"s":"BSA (5%) + Plasma (80%)","x":0.100,"y":6.8}
],
"zoomBox": [{"x1":0.03,"x2":0.045,"y1":85,"y2":102}],
"connectors": [{"xa":0.03,"ya":102,"xb":0.0549,"yb":119.0},{"xa":0.045,"ya":85,"xb":0.0549,"yb":82.9}]
},
"spacing": 123,
"bounds": "flush",
"resolve": {"legend": {"color": "independent"}},
"vconcat": [
{
"width": 611, "height": 354,
"title": {"text": "A.", "offset": -0.5, "dx": -129},
"layer": [
{"data": {"name": "A"}, "mark": {"type": "line", "strokeWidth": 4, "interpolate": "monotone"},
"encoding": {
"x": {"field": "x", "type": "quantitative", "scale": {"domain": [0.01, 0.1], "nice": false, "zero": false}, "axis": {"title": "Particle diameter (µm)", "values": [0.02, 0.04, 0.06, 0.08, 0.1], "format": ".2f"}},
"y": {"field": "y", "type": "quantitative", "scale": {"domain": [0, 120], "nice": false, "zero": false}, "axis": {"title": "Relative weight", "values": [0, 20, 40, 60, 80, 100, 120]}},
"color": {"field": "s", "type": "nominal", "scale": {"domain": ["Buffer", "Plasma (80%)", "BSA (5%)", "BSA (5%) + Plasma (80%)"], "range": ["#000000", "#ff0000", "#0000ff", "#808000"]},
"legend": {"orient": "none", "legendX": 256, "legendY": 118, "title": null, "symbolType": "M-4,0L4,0", "symbolSize": 126.6, "symbolStrokeWidth": 4, "symbolOffset": 12, "labelOffset": 27.7, "rowPadding": 9.5, "labelFontSize": 21, "labelFont": "DejaVu Sans", "labelColor": "#262626", "labelLimit": 0, "padding": 0}}
}},
{"data": {"name": "zoomBox"}, "mark": {"type": "rect", "fill": "transparent", "stroke": "#bdbdbd", "strokeWidth": 2},
"encoding": {"x": {"field": "x1", "type": "quantitative", "scale": {"domain": [0.01, 0.1], "nice": false, "zero": false}, "axis": null}, "x2": {"field": "x2"}, "y": {"field": "y1", "type": "quantitative", "scale": {"domain": [0, 120], "nice": false, "zero": false}, "axis": null}, "y2": {"field": "y2"}}},
{"data": {"name": "connectors"}, "mark": {"type": "rule", "stroke": "#bdbdbd", "strokeWidth": 2},
"encoding": {"x": {"field": "xa", "type": "quantitative", "scale": {"domain": [0.01, 0.1], "nice": false, "zero": false}, "axis": null}, "x2": {"field": "xb"}, "y": {"field": "ya", "type": "quantitative", "scale": {"domain": [0, 120], "nice": false, "zero": false}, "axis": null}, "y2": {"field": "yb"}}},
{"data": {"name": "A"}, "transform": [{"filter": {"field": "y", "gte": 85}}], "mark": {"type": "line", "strokeWidth": 2.5, "interpolate": "monotone"},
"encoding": {
"x": {"field": "x", "type": "quantitative", "scale": {"domain": [0.03, 0.045], "range": [304.82, 518.67], "nice": false, "zero": false}, "axis": null},
"y": {"field": "y", "type": "quantitative", "scale": {"domain": [85, 102], "range": [109.45, 2.95], "nice": false, "zero": false}, "axis": null},
"color": {"field": "s", "type": "nominal", "legend": null}}},
{"data": {"name": "zoomBox"}, "mark": {"type": "rect", "fill": "transparent", "stroke": "#333333", "strokeWidth": 2},
"encoding": {"x": {"field": "x1", "type": "quantitative", "scale": {"domain": [0.03, 0.045], "range": [304.82, 518.67], "nice": false, "zero": false}, "axis": null}, "x2": {"field": "x2"}, "y": {"field": "y1", "type": "quantitative", "scale": {"domain": [85, 102], "range": [109.45, 2.95], "nice": false, "zero": false}, "axis": null}, "y2": {"field": "y2"}}}
],
"resolve": {"scale": {"x": "independent", "y": "independent"}}
},
{
"width": 618, "height": 360,
"title": {"text": "B.", "offset": 0.5, "dx": -126},
"layer": [
{"data": {"name": "B"}, "mark": {"type": "line", "strokeWidth": 4, "interpolate": "monotone"},
"encoding": {
"x": {"field": "x", "type": "quantitative", "scale": {"domain": [0.01, 0.1], "nice": false, "zero": false}, "axis": {"title": "Particle diameter (µm)", "values": [0.02, 0.04, 0.06, 0.08, 0.1], "format": ".2f"}},
"y": {"field": "y", "type": "quantitative", "scale": {"domain": [0, 120], "nice": false, "zero": false}, "axis": {"title": "Relative weight", "values": [0, 20, 40, 60, 80, 100, 120]}},
"color": {"field": "s", "type": "nominal", "scale": {"domain": ["Buffer", "Plasma (80%)", "BSA (5%)", "BSA (5%) + Plasma (80%)"], "range": ["#000000", "#ff0000", "#0000ff", "#808000"]},
"legend": {"orient": "none", "legendX": 261, "legendY": 123.3, "title": null, "symbolType": "M-4,0L4,0", "symbolSize": 126.6, "symbolStrokeWidth": 4, "symbolOffset": 12, "labelOffset": 27.7, "rowPadding": 9.5, "labelFontSize": 21, "labelFont": "DejaVu Sans", "labelColor": "#262626", "labelLimit": 0, "padding": 0}}
}},
{"data": {"name": "zoomBox"}, "mark": {"type": "rect", "fill": "transparent", "stroke": "#bdbdbd", "strokeWidth": 2},
"encoding": {"x": {"field": "x1", "type": "quantitative", "scale": {"domain": [0.01, 0.1], "nice": false, "zero": false}, "axis": null}, "x2": {"field": "x2"}, "y": {"field": "y1", "type": "quantitative", "scale": {"domain": [0, 120], "nice": false, "zero": false}, "axis": null}, "y2": {"field": "y2"}}},
{"data": {"name": "connectors"}, "mark": {"type": "rule", "stroke": "#bdbdbd", "strokeWidth": 2},
"encoding": {"x": {"field": "xa", "type": "quantitative", "scale": {"domain": [0.01, 0.1], "nice": false, "zero": false}, "axis": null}, "x2": {"field": "xb"}, "y": {"field": "ya", "type": "quantitative", "scale": {"domain": [0, 120], "nice": false, "zero": false}, "axis": null}, "y2": {"field": "yb"}}},
{"data": {"name": "B"}, "transform": [{"filter": {"field": "y", "gte": 85}}], "mark": {"type": "line", "strokeWidth": 2.5, "interpolate": "monotone"},
"encoding": {
"x": {"field": "x", "type": "quantitative", "scale": {"domain": [0.03, 0.045], "range": [308.29, 524.63], "nice": false, "zero": false}, "axis": null},
"y": {"field": "y", "type": "quantitative", "scale": {"domain": [85, 102], "range": [111.3, 3.0], "nice": false, "zero": false}, "axis": null},
"color": {"field": "s", "type": "nominal", "legend": null}}},
{"data": {"name": "zoomBox"}, "mark": {"type": "rect", "fill": "transparent", "stroke": "#333333", "strokeWidth": 2},
"encoding": {"x": {"field": "x1", "type": "quantitative", "scale": {"domain": [0.03, 0.045], "range": [308.29, 524.63], "nice": false, "zero": false}, "axis": null}, "x2": {"field": "x2"}, "y": {"field": "y1", "type": "quantitative", "scale": {"domain": [85, 102], "range": [111.3, 3.0], "nice": false, "zero": false}, "axis": null}, "y2": {"field": "y2"}}}
],
"resolve": {"scale": {"x": "independent", "y": "independent"}}
},
{
"width": 618, "height": 359,
"title": {"text": "C.", "offset": -3.5, "dx": -128},
"layer": [
{"data": {"name": "C"}, "mark": {"type": "line", "strokeWidth": 4, "interpolate": "monotone"},
"encoding": {
"x": {"field": "x", "type": "quantitative", "scale": {"domain": [0.01, 0.1], "nice": false, "zero": false}, "axis": {"title": "Particle diameter (µm)", "values": [0.02, 0.04, 0.06, 0.08, 0.1], "format": ".2f"}},
"y": {"field": "y", "type": "quantitative", "scale": {"domain": [0, 120], "nice": false, "zero": false}, "axis": {"title": "Relative weight", "values": [0, 20, 40, 60, 80, 100, 120]}},
"color": {"field": "s", "type": "nominal", "scale": {"domain": ["Buffer", "Plasma (80%)", "BSA (5%)", "BSA (5%) + Plasma (80%)"], "range": ["#000000", "#ff0000", "#0000ff", "#808000"]},
"legend": {"orient": "none", "legendX": 261, "legendY": 122.3, "title": null, "symbolType": "M-4,0L4,0", "symbolSize": 126.6, "symbolStrokeWidth": 4, "symbolOffset": 12, "labelOffset": 27.7, "rowPadding": 9.5, "labelFontSize": 21, "labelFont": "DejaVu Sans", "labelColor": "#262626", "labelLimit": 0, "padding": 0}}
}},
{"data": {"name": "zoomBox"}, "mark": {"type": "rect", "fill": "transparent", "stroke": "#bdbdbd", "strokeWidth": 2},
"encoding": {"x": {"field": "x1", "type": "quantitative", "scale": {"domain": [0.01, 0.1], "nice": false, "zero": false}, "axis": null}, "x2": {"field": "x2"}, "y": {"field": "y1", "type": "quantitative", "scale": {"domain": [0, 120], "nice": false, "zero": false}, "axis": null}, "y2": {"field": "y2"}}},
{"data": {"name": "connectors"}, "mark": {"type": "rule", "stroke": "#bdbdbd", "strokeWidth": 2},
"encoding": {"x": {"field": "xa", "type": "quantitative", "scale": {"domain": [0.01, 0.1], "nice": false, "zero": false}, "axis": null}, "x2": {"field": "xb"}, "y": {"field": "ya", "type": "quantitative", "scale": {"domain": [0, 120], "nice": false, "zero": false}, "axis": null}, "y2": {"field": "yb"}}},
{"data": {"name": "C"}, "transform": [{"filter": {"field": "y", "gte": 85}}], "mark": {"type": "line", "strokeWidth": 2.5, "interpolate": "monotone"},
"encoding": {
"x": {"field": "x", "type": "quantitative", "scale": {"domain": [0.03, 0.045], "range": [308.29, 524.63], "nice": false, "zero": false}, "axis": null},
"y": {"field": "y", "type": "quantitative", "scale": {"domain": [85, 102], "range": [110.99, 2.99], "nice": false, "zero": false}, "axis": null},
"color": {"field": "s", "type": "nominal", "legend": null}}},
{"data": {"name": "zoomBox"}, "mark": {"type": "rect", "fill": "transparent", "stroke": "#333333", "strokeWidth": 2},
"encoding": {"x": {"field": "x1", "type": "quantitative", "scale": {"domain": [0.03, 0.045], "range": [308.29, 524.63], "nice": false, "zero": false}, "axis": null}, "x2": {"field": "x2"}, "y": {"field": "y1", "type": "quantitative", "scale": {"domain": [85, 102], "range": [110.99, 2.99], "nice": false, "zero": false}, "axis": null}, "y2": {"field": "y2"}}}
],
"resolve": {"scale": {"x": "independent", "y": "independent"}}
}
],
"config": {
"view": {"stroke": "#262626", "strokeWidth": 2},
"axis": {"domainColor": "#262626", "domainWidth": 2, "tickColor": "#262626", "tickWidth": 2, "tickSize": 15, "labelFont": "DejaVu Sans", "labelFontSize": 28, "labelColor": "#262626", "labelPadding": 12, "titleFont": "DejaVu Sans", "titleFontSize": 37, "titleFontWeight": "bold", "titleColor": "#262626", "titlePadding": 10, "grid": false, "labelFlush": false, "labelOverlap": false, "labelBound": false},
"title": {"anchor": "start", "frame": "group", "baseline": "alphabetic", "font": "Liberation Sans", "fontSize": 52, "fontWeight": "bold", "color": "#000000"},
"line": {"strokeCap": "butt", "strokeJoin": "round"}
}
}
